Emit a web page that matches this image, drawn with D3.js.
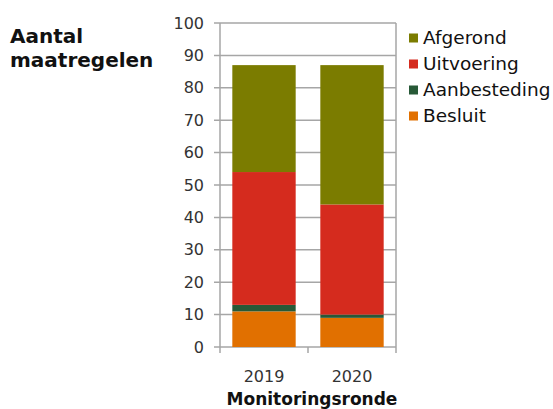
<!DOCTYPE html>
<html><head><meta charset="utf-8">
<script src="https://cdn.jsdelivr.net/npm/d3@7"></script>
<style>body{margin:0;background:#fff}</style>
</head><body>
<svg id="c" width="553" height="409"></svg>
<script>
const years = ["2019", "2020"];
const seriesNames = ["Besluit", "Aanbesteding", "Uitvoering", "Afgerond"];
const besluit = [11, 9];
const aanbesteding = [2, 1];
const uitvoering = [41, 34];
const afgerond = [33, 43];
const yTicks = [0, 10, 20, 30, 40, 50, 60, 70, 80, 90, 100];
const colors = ["#e17000", "#275937", "#d52b1e", "#7b7c00"];
const legendOrder = ["Afgerond", "Uitvoering", "Aanbesteding", "Besluit"];

const rows = years.map((y, i) => ({year: y, Besluit: besluit[i], Aanbesteding: aanbesteding[i], Uitvoering: uitvoering[i], Afgerond: afgerond[i]}));
const stacked = d3.stack().keys(seriesNames)(rows);

const svg = d3.select("#c");
const font = "DejaVu Sans, Verdana, sans-serif";
const x = d3.scaleBand().domain(years).range([220, 396]).paddingInner(0.28).paddingOuter(0.14);
const y = d3.scaleLinear().domain([0, 100]).range([347, 23]);
const color = d3.scaleOrdinal().domain(seriesNames).range(colors);

// gridlines
svg.append("g").selectAll("line").data(yTicks).join("line")
  .attr("x1", 214).attr("x2", 396)
  .attr("y1", d => y(d)).attr("y2", d => y(d))
  .attr("stroke", "#a6a6a6").attr("stroke-width", 1.5);
// vertical borders
svg.append("line").attr("x1", 220).attr("x2", 220).attr("y1", y(100)).attr("y2", 353).attr("stroke", "#a6a6a6").attr("stroke-width", 1.5);
svg.append("line").attr("x1", 396).attr("x2", 396).attr("y1", y(100)).attr("y2", 353).attr("stroke", "#a6a6a6").attr("stroke-width", 1.5);
svg.append("line").attr("x1", 308).attr("x2", 308).attr("y1", 347).attr("y2", 353).attr("stroke", "#a6a6a6").attr("stroke-width", 1.5);

// bars
svg.append("g").selectAll("g").data(stacked).join("g")
  .attr("fill", d => color(d.key))
  .selectAll("rect").data(d => d).join("rect")
  .attr("x", d => x(d.data.year))
  .attr("width", x.bandwidth())
  .attr("y", d => y(d[1]))
  .attr("height", d => y(d[0]) - y(d[1]));

// y tick labels
svg.append("g").selectAll("text").data(yTicks).join("text")
  .attr("x", 204).attr("y", d => y(d)).attr("dy", "0.35em")
  .attr("text-anchor", "end").attr("font-family", font).attr("font-size", 16).attr("fill", "#333")
  .text(d => d);

// x tick labels
svg.append("g").selectAll("text").data(years).join("text")
  .attr("x", d => x(d) + x.bandwidth() / 2).attr("y", 382)
  .attr("text-anchor", "middle").attr("font-family", font).attr("font-size", 16).attr("fill", "#333")
  .text(d => d);

svg.append("text").attr("x", 312).attr("y", 405).attr("text-anchor", "middle")
  .attr("font-family", font).attr("font-size", 17).attr("font-weight", "bold").attr("fill", "#111")
  .text("Monitoringsronde");

svg.append("text").attr("x", 10).attr("y", 43)
  .attr("font-family", font).attr("font-size", 20).attr("font-weight", "bold").attr("fill", "#111")
  .text("Aantal");
svg.append("text").attr("x", 10).attr("y", 67)
  .attr("font-family", font).attr("font-size", 20).attr("font-weight", "bold").attr("fill", "#111")
  .text("maatregelen");

// legend
const lg = svg.append("g").selectAll("g").data(legendOrder).join("g")
  .attr("transform", (d, i) => `translate(409,${38 + i * 26})`);
lg.append("rect").attr("x", 0).attr("y", -4.5).attr("width", 9).attr("height", 9).attr("fill", d => color(d));
lg.append("text").attr("x", 14).attr("y", 0).attr("dy", "0.35em")
  .attr("font-family", font).attr("font-size", 18.5).attr("fill", "#111").text(d => d);
</script>
</body></html>
